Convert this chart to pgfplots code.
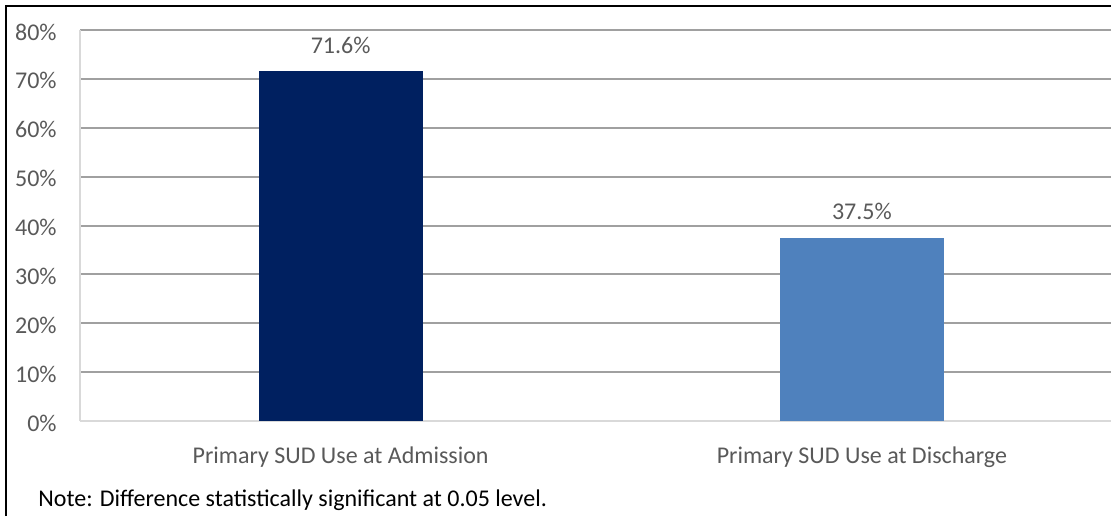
\documentclass[border=0pt]{standalone}
\usepackage{pgfplots}
\pgfplotsset{compat=1.18}
\usepackage{fontspec}
\setmainfont{Carlito}
\definecolor{adm}{RGB}{0,32,96}
\definecolor{dis}{RGB}{79,129,189}
\definecolor{txt}{RGB}{89,89,89}
\definecolor{gridc}{RGB}{160,160,160}
\definecolor{axc}{RGB}{217,217,217}
\begin{document}
\fontsize{12}{14}\selectfont
\begin{tikzpicture}
\useasboundingbox (0pt,0pt) rectangle (555.5pt,258pt);
\begin{axis}[
  at={(40pt,47.5pt)}, anchor=south west,
  scale only axis, width=515.5pt, height=195.5pt,
  xmin=-0.5, xmax=1.478, ymin=0, ymax=80,
  enlargelimits=false,
  axis x line=bottom, axis y line=left,
  axis line style={axc, line width=1pt, -},
  ymajorgrids, grid style={gridc, line width=1pt},
  major tick length=0pt,
  ytick={0,10,...,80},
  yticklabel={\pgfmathprintnumber[assume math mode=true]{\tick}\%},
  yticklabel style={txt, font=\fontsize{12}{14}\selectfont, xshift=-7.5pt, yshift=-1pt},
  xtick={0,1},
  xticklabels={Primary SUD Use at Admission, Primary SUD Use at Discharge},
  xticklabel style={txt, font=\fontsize{12}{14}\selectfont, anchor=center, yshift=-18pt},
  ybar, bar width=82pt,
  nodes near coords={\pgfmathprintnumber[fixed,precision=1,fixed zerofill,assume math mode=true]{\pgfplotspointmeta}\%},
  nodes near coords style={txt, font=\fontsize{12}{14}\selectfont, yshift=4.7pt},
  clip=false,
]
\addplot[fill=adm, draw=none, bar shift=0pt] coordinates {(0,71.6)};
\addplot[fill=dis, draw=none, bar shift=0pt] coordinates {(1,37.5)};
\end{axis}
\draw[black, line width=1pt] (3pt,0pt) -- (3pt,255pt) -- (555.5pt,255pt);
\node[anchor=base west, black, inner sep=0pt, font=\fontsize{12}{14}\selectfont] at (19pt,4.75pt) {Note: Difference statistically significant at 0.05 level.};
\end{tikzpicture}
\end{document}
